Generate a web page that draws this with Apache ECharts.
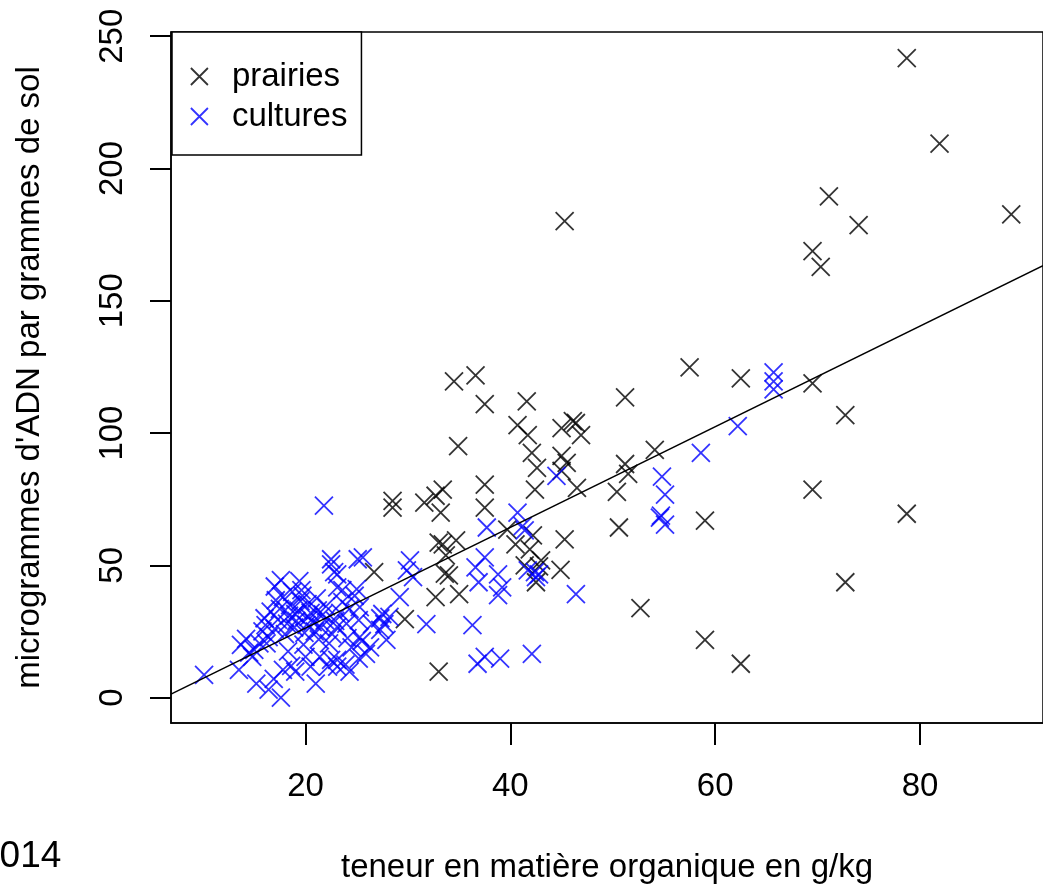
<!DOCTYPE html>
<html>
<head>
<meta charset="utf-8">
<script src="https://cdn.jsdelivr.net/npm/echarts@6/dist/echarts.min.js"></script>
<style>
  html, body { margin: 0; padding: 0; background: #fff; }
  #chart { width: 1043px; height: 889px; }
</style>
</head>
<body>
<div id="chart"></div>
<script>
// prairies (black crosses): [teneur MO g/kg, µg ADN / g sol]
const prairies = [
  [78.7, 241.7], [81.9, 209.4], [88.9, 182.7], [71.1, 189.5], [74.0, 178.6],
  [69.5, 168.8], [70.3, 162.8], [45.3, 180.1], [57.5, 124.8], [62.5, 120.7],
  [69.5, 118.8], [72.7, 106.8], [51.2, 113.5], [54.1, 93.6], [51.2, 88.3],
  [51.5, 84.6], [50.4, 77.8], [50.6, 64.3], [59.0, 66.9], [69.5, 78.6],
  [78.7, 69.5], [52.7, 33.8], [59.0, 21.8], [62.5, 12.8], [72.7, 43.6],
  [34.5, 119.5], [36.6, 121.8], [37.5, 110.9], [41.6, 112.0], [34.9, 95.1],
  [40.7, 103.0], [41.7, 99.2], [42.1, 92.5], [45.0, 101.9], [46.4, 103.8],
  [46.1, 104.5], [46.9, 99.2], [45.0, 91.4], [45.5, 88.7], [42.6, 86.8],
  [42.4, 78.6], [45.0, 85.7], [46.5, 79.3], [37.5, 80.5], [37.5, 71.8],
  [28.5, 71.8], [28.5, 74.4], [31.6, 73.7], [33.4, 78.6], [32.7, 76.3],
  [33.2, 69.9], [39.7, 63.5], [42.2, 61.3], [45.3, 59.8], [33.4, 57.9],
  [34.7, 59.4], [34.0, 46.2], [33.6, 46.9], [35.0, 39.1], [32.7, 38.0],
  [41.4, 50.0], [42.5, 43.6], [43.0, 51.9], [40.5, 57.9], [41.9, 56.0],
  [26.7, 47.4], [29.7, 29.7], [33.0, 9.8], [33.7, 53.8], [33.0, 58.6],
  [42.8, 49.6], [44.9, 48.3]
];

// cultures (blue crosses)
const cultures = [
  [65.7, 122.9], [65.7, 119.5], [65.7, 116.5], [62.2, 102.6], [58.6, 92.5],
  [54.8, 83.5], [55.1, 76.7], [54.7, 68.8], [54.6, 68.0], [55.1, 65.4],
  [44.5, 83.8], [21.8, 72.6], [40.7, 69.9], [37.7, 64.3], [41.4, 63.2],
  [41.2, 64.8], [36.6, 49.2], [36.9, 43.6], [37.5, 53.0], [38.8, 46.6],
  [38.8, 38.7], [39.2, 41.7], [41.7, 48.1], [42.5, 45.5], [42.8, 46.6],
  [46.4, 39.1], [29.9, 48.1], [30.2, 51.9], [30.5, 45.5], [29.2, 38.0],
  [31.8, 27.8], [36.3, 27.4], [36.8, 12.8], [37.5, 15.4], [39.0, 14.7],
  [42.1, 16.5], [42.4, 47.4],
  [10.1, 8.6], [13.7, 19.9], [14.2, 22.2], [13.5, 10.5], [14.8, 15.4],
  [15.2, 5.3], [16.4, 3.0], [17.6, 0.0], [16.9, 7.1], [17.8, 10.5],
  [19.0, 9.8], [20.0, 15.4], [21.0, 5.3], [22.2, 11.7], [22.5, 14.3],
  [23.1, 14.3], [20.5, 11.7], [21.4, 15.4], [17.6, 44.4], [17.0, 42.0],
  [19.0, 31.6], [16.4, 22.9], [16.1, 27.4], [17.1, 36.8], [19.6, 40.6],
  [20.2, 35.3], [21.2, 33.0], [21.9, 29.3], [23.1, 26.7], [23.6, 40.6],
  [22.5, 50.4], [23.1, 46.6], [22.5, 52.3], [25.1, 52.3], [25.6, 53.0],
  [22.8, 47.4], [23.1, 41.7], [23.6, 36.1], [25.3, 34.2], [25.2, 29.3],
  [25.3, 22.9], [25.5, 21.4], [25.2, 14.7], [23.1, 11.7], [25.0, 41.0],
  [27.7, 27.8], [27.9, 21.8], [27.5, 31.6], [27.3, 25.6], [26.5, 27.8],
  [15.0, 18.0], [15.5, 20.5], [15.8, 25.0], [16.0, 30.0], [16.6, 32.5],
  [17.0, 26.0], [17.3, 29.5], [17.5, 33.5], [17.8, 38.0], [18.0, 24.0],
  [18.2, 28.0], [18.4, 31.0], [18.5, 35.0], [18.7, 40.0], [18.9, 26.5],
  [19.1, 29.0], [19.3, 33.0], [19.5, 36.5], [19.7, 38.5], [19.9, 24.5],
  [20.1, 27.5], [20.3, 30.5], [20.5, 32.0], [20.7, 28.5], [20.9, 25.0],
  [21.1, 37.5], [21.3, 22.0], [21.5, 26.5], [21.7, 31.5], [22.0, 34.5],
  [22.3, 20.5], [22.6, 24.0], [22.9, 29.0], [23.4, 32.0], [24.0, 28.0],
  [24.3, 33.5], [24.5, 19.0], [24.8, 38.5], [19.4, 44.0], [18.3, 17.5],
  [19.8, 20.0], [14.5, 17.0], [16.2, 20.5], [18.6, 12.0], [24.3, 9.8],
  [23.9, 12.5], [26.3, 19.0], [27.3, 30.0], [28.2, 30.5], [25.9, 16.5],
  [24.1, 22.5]
];

// fitted line, endpoints read at the plot edges
const fitLine = [[6.87, 1.3], [92.0, 163.3]];

const xTicks = [20, 40, 60, 80];
const yTicks = [0, 50, 100, 150, 200, 250];

const CROSS = 'path://M0,0L10,10M10,0L0,10';
const FONT = 'Liberation Sans';

const chart = echarts.init(document.getElementById('chart'));

const crossStyle = (color) => ({ color: 'transparent', borderColor: color, borderWidth: 1.8 });

chart.setOption({
  animation: false,
  backgroundColor: '#fff',
  textStyle: { fontFamily: FONT },
  grid: {
    left: 171, top: 32, right: -12, bottom: 162,
    show: true, borderColor: '#000', borderWidth: 1.5, backgroundColor: 'transparent'
  },
  legend: {
    orient: 'vertical',
    left: 172, top: 32,
    padding: [28, 14, 22, 18],
    itemGap: 7,
    itemWidth: 17, itemHeight: 17,
    borderColor: '#000', borderWidth: 1.5, borderRadius: 0,
    backgroundColor: '#fff',
    textStyle: { fontFamily: FONT, fontSize: 33, color: '#000', padding: [0, 0, 0, 19] },
    data: [
      { name: 'prairies', icon: CROSS, itemStyle: crossStyle('#000') },
      { name: 'cultures', icon: CROSS, itemStyle: crossStyle('#0000ff') }
    ]
  },
  xAxis: {
    type: 'value',
    min: 6.87, max: 92.0,
    name: 'teneur en matière organique en g/kg',
    nameLocation: 'middle',
    nameGap: 128,
    nameTextStyle: { fontFamily: FONT, fontSize: 33, color: '#000' },
    axisLine: { show: true, onZero: false, lineStyle: { color: '#000', width: 1.5 } },
    axisTick: { show: true, length: 22, customValues: xTicks, lineStyle: { color: '#000', width: 2 } },
    axisLabel: { customValues: xTicks, margin: 47, fontFamily: FONT, fontSize: 33, color: '#000' },
    splitLine: { show: false }
  },
  yAxis: {
    type: 'value',
    min: -9.6, max: 251.6,
    name: "microgrammes d'ADN par grammes de sol",
    nameLocation: 'middle',
    nameRotate: 90,
    nameGap: 125,
    nameTextStyle: { fontFamily: FONT, fontSize: 33, color: '#000' },
    axisLine: { show: true, onZero: false, lineStyle: { color: '#000', width: 1.5 } },
    axisTick: { show: true, length: 21, customValues: yTicks, lineStyle: { color: '#000', width: 2 } },
    axisLabel: { customValues: yTicks, rotate: 90, margin: 42, fontFamily: FONT, fontSize: 33, color: '#000' },
    splitLine: { show: false }
  },
  series: [
    {
      name: 'prairies',
      type: 'scatter',
      symbol: CROSS,
      symbolSize: 18,
      itemStyle: crossStyle('#000'),
      data: prairies
    },
    {
      name: 'cultures',
      type: 'scatter',
      symbol: CROSS,
      symbolSize: 18,
      itemStyle: crossStyle('#0000ff'),
      data: cultures
    },
    {
      name: 'fit',
      type: 'line',
      data: fitLine,
      symbol: 'none',
      lineStyle: { color: '#000', width: 1.5 },
      z: 5
    }
  ],
  graphic: [
    {
      type: 'text',
      left: -21, top: 838,
      style: { text: '2014', fontFamily: FONT, fontSize: 37, fill: '#000' }
    }
  ]
});
</script>
</body>
</html>
